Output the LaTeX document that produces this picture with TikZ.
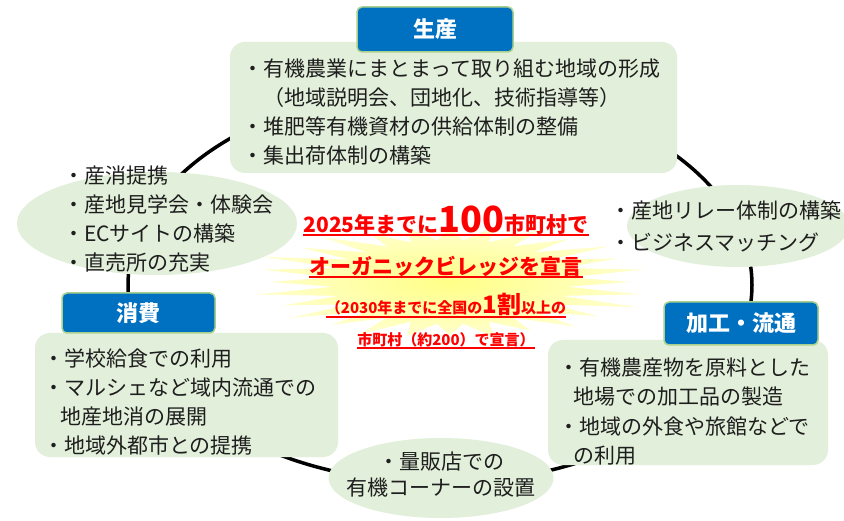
\documentclass[tikz,border=0pt]{standalone}
\usepackage{fontspec}
\setmainfont{Noto Sans CJK JP}
\usetikzlibrary{shapes.geometric}
\definecolor{boxgreen}{RGB}{226,239,218}
\definecolor{hdrblue}{RGB}{0,112,192}
\definecolor{hdredge}{RGB}{169,209,142}
\definecolor{burstin}{RGB}{255,255,135}
\definecolor{burstout}{RGB}{255,255,205}
\definecolor{txtred}{RGB}{255,0,0}
\definecolor{bodytext}{RGB}{30,30,30}
\begin{document}
\begin{tikzpicture}[x=1pt,y=-1pt,
  greenbox/.style={rectangle, fill=boxgreen, rounded corners=15pt, inner sep=0},
  greenoval/.style={ellipse, fill=boxgreen, inner sep=0},
  header/.style={rectangle, draw=hdredge, line width=1.5pt, fill=hdrblue, rounded corners=5pt, text=white, font=\fontsize{22}{26}\selectfont\bfseries, inner sep=0},
  body/.style={font=\fontsize{21}{29}\selectfont, align=left, inner sep=0, anchor=north west, text=bodytext},
  ring/.style={line width=3.5pt},
  redline/.style={text=txtred, inner sep=0, anchor=base, font=\bfseries},
  ul/.style n args={2}{append after command={([yshift=-#1]\tikzlastnode.base west) edge[draw=txtred,line width=#2] ([yshift=-#1]\tikzlastnode.base east)}},
]
\useasboundingbox[fill=white] (0,0) rectangle (844,521);

% ring behind everything
\draw[ring] (440,285) ellipse [x radius=312pt, y radius=198pt];

% starburst: inner ellipse 118 x 42, tips out to 208 x 58
\foreach \i in {0,...,55} {
  \pgfmathsetmacro\ss{mod(\i+1,2)*(0.70+0.30*mod(\i*5,7)/6)}
  \pgfmathsetmacro\aa{\i*45/7}
  \coordinate (b\i) at ({450+(118+90*\ss)*cos(\aa)},{282+(42+16*\ss)*sin(\aa)});
}
\shade[inner color=burstin, outer color=burstout]
  (b0) \foreach \i in {1,...,55} { -- (b\i) } -- cycle;

% central message
\node[redline, ul={2pt}{2.5pt}] (c1) at (446,233) {\fontsize{21}{25}\selectfont 2025年までに{\fontsize{36}{40}\selectfont 100}市町村で};
\node[redline, ul={2pt}{2.5pt}] (c2) at (446,275) {\fontsize{21}{25}\selectfont オーガニックビレッジを宣言};
\node[redline, ul={3pt}{1.8pt}] (c3) at (446,314) {\fontsize{15}{18}\selectfont （2030年までに全国の{\fontsize{24}{28}\selectfont 1割}以上の};
\node[redline, ul={2pt}{1.8pt}] (c4) at (446,346) {\fontsize{15}{18}\selectfont 市町村（約200）で宣言）};

% green shapes
\node[greenbox, minimum width=447pt, minimum height=131pt] (bprod) at (453.5,107.5) {};
\node[greenoval, minimum width=280pt, minimum height=103pt] (oleft) at (157,223.5) {};
\node[greenoval, minimum width=222pt, minimum height=82pt] (oright) at (738,226) {};
\node[greenbox, minimum width=303pt, minimum height=124pt] (bcons) at (186.5,395) {};
\node[greenbox, minimum width=280pt, minimum height=125pt] (bproc) at (688,402.5) {};
\node[greenoval, minimum width=225pt, minimum height=80pt] (obottom) at (441,478) {};

% headers
\node[header, minimum width=156pt, minimum height=45pt] (hprod) at (435,29.5) {生産};
\node[header, minimum width=153pt, minimum height=40pt] (hcons) at (138.5,313) {消費};
\node[header, minimum width=154pt, minimum height=43pt] (hproc) at (741,323.5) {加工・流通};

% texts
\node[body] (tprod) at (242,58.5) {・有機農業にまとまって取り組む地域の形成\\　（地域説明会、団地化、技術指導等）\\・堆肥等有機資材の供給体制の整備\\・集出荷体制の構築};
\node[body] (tleft) at (63,165.5) {・産消提携\\・産地見学会・体験会\\・ECサイトの構築\\・直売所の充実};
\node[body, font=\fontsize{21}{32}\selectfont] (tright) at (610,200.5) {・産地リレー体制の構築\\・ビジネスマッチング};
\node[body] (tcons) at (43,348.5) {・学校給食での利用\\・マルシェなど域内流通での\\\hspace*{17pt}地産地消の展開\\・地域外都市との提携};
\node[body, font=\fontsize{21}{29.5}\selectfont] (tproc) at (558,357.5) {・有機農産物を原料とした\\\hspace*{15pt}地場での加工品の製造\\・地域の外食や旅館などで\\\hspace*{15pt}の利用};
\node[body, anchor=center, align=center, font=\fontsize{21}{26}\selectfont] (tbottom) at (441,475) {・量販店での\\有機コーナーの設置};
\end{tikzpicture}
\end{document}
